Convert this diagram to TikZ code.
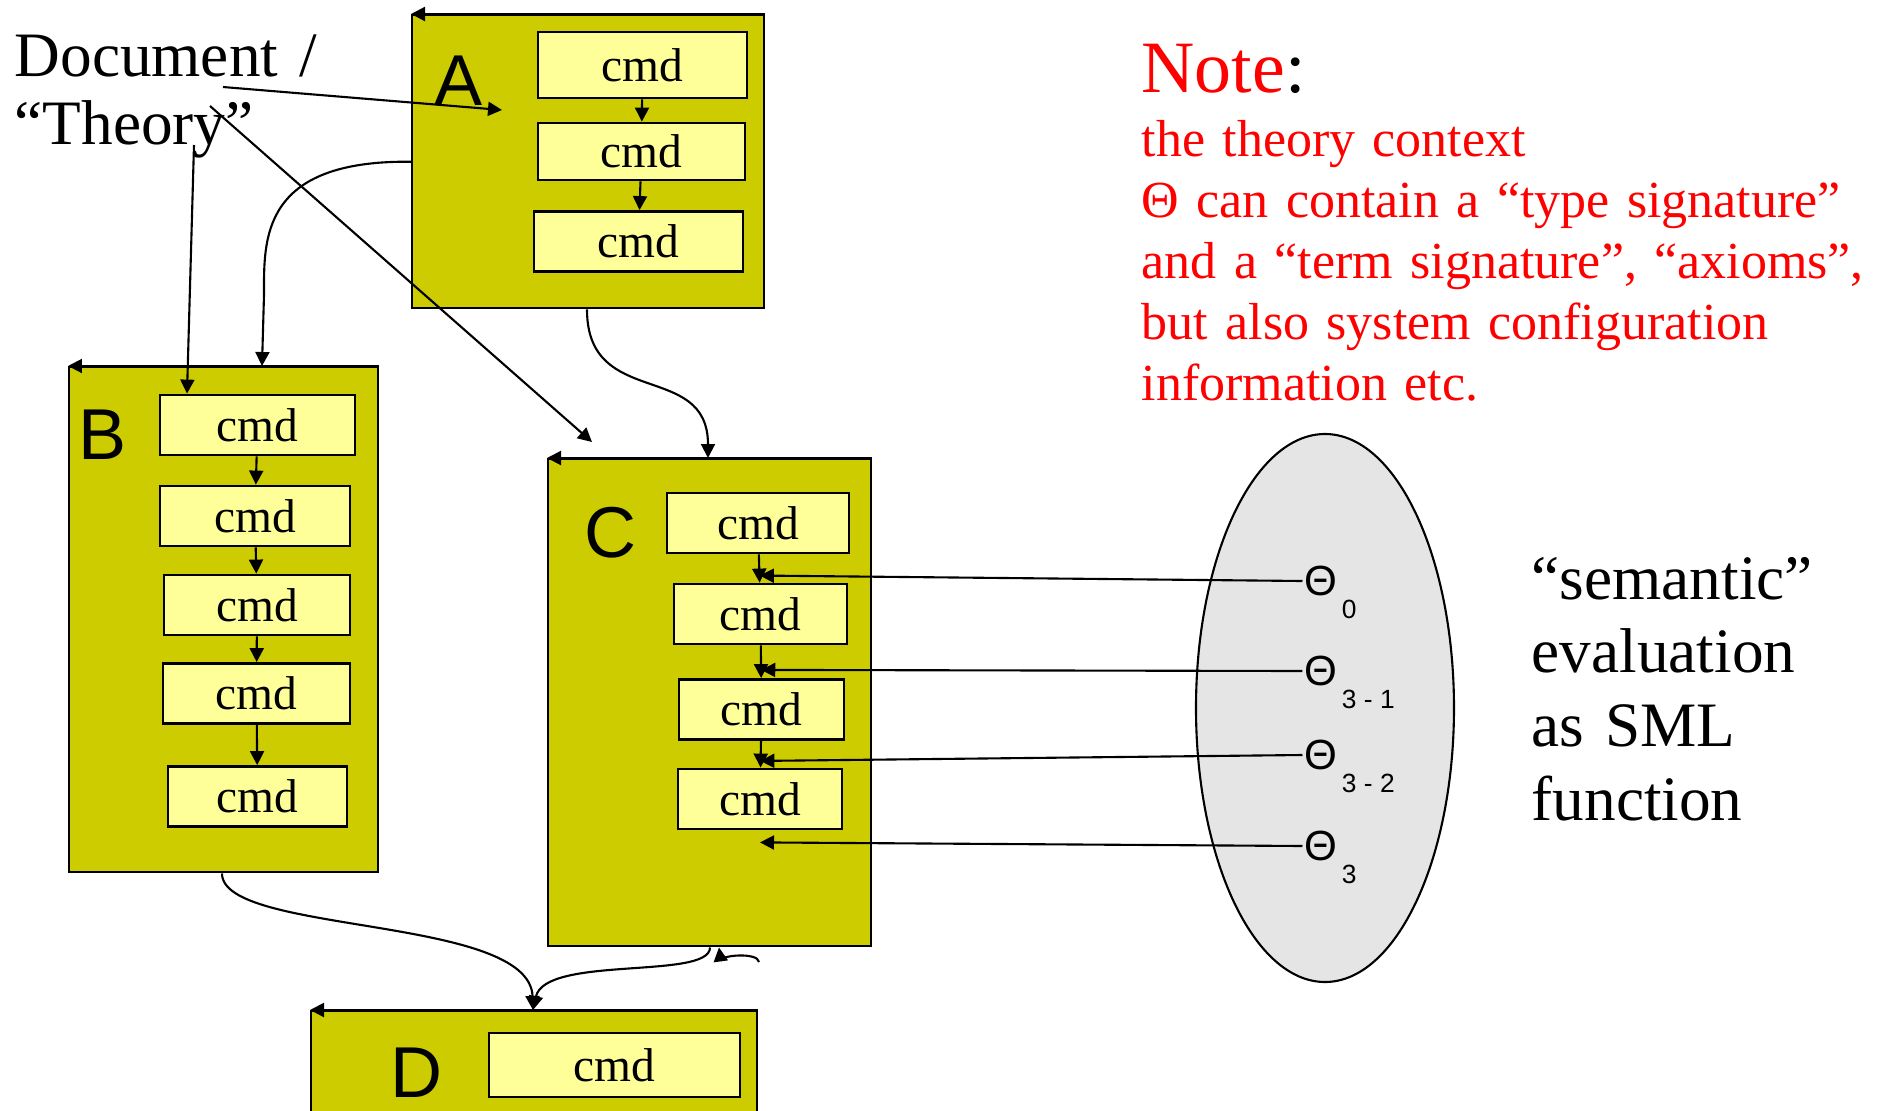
\documentclass[tikz,border=0pt]{standalone}
\usepackage{fontspec}
\setmainfont{Liberation Serif}
\newfontfamily\arialfont{Liberation Sans}
\usetikzlibrary{calc, arrows.meta, shapes.geometric}

\definecolor{boxolive}{RGB}{204,204,0}
\definecolor{cmdyellow}{RGB}{255,255,153}
\definecolor{ctxgray}{RGB}{229,229,229}

\begin{document}
\begin{tikzpicture}[
    frame/.style={draw, fill=boxolive, line width=0.7pt, anchor=north west, inner sep=0},
    cmdbox/.style={draw, fill=cmdyellow, line width=0.8pt, minimum height=0.6cm, inner sep=0,
        font=\fontsize{13.5}{14}\selectfont},
    letter/.style={inner sep=0, font=\arialfont\fontsize{20.5}{22}\selectfont},
    theta/.style={inner sep=0.4pt, font=\arialfont\fontsize{12}{13}\selectfont},
    subs/.style={inner sep=0.5pt, label distance=0pt, font=\arialfont\fontsize{7.5}{8}\selectfont},
    arr/.style={-{Triangle[length=1.4mm,width=1.4mm]}, line width=0.6pt}]

    % page size, D sticks out at the bottom
    \useasboundingbox (0,0) rectangle (18.78,-11.11);
    \clip (0,0) rectangle (18.78,-11.11);

    % the four theory boxes
    \node[frame, minimum width=3.52cm, minimum height=2.93cm] (A) at (4.11,-0.14) {};
    \node[frame, minimum width=3.09cm, minimum height=5.05cm] (B) at (0.68,-3.66) {};
    \node[frame, minimum width=3.23cm, minimum height=4.87cm] (C) at (5.47,-4.58) {};
    \node[frame, minimum width=4.46cm, minimum height=1.50cm] (D) at (3.10,-10.10) {};
    \foreach \b in {A,B,C,D}
        \draw[arr] (\b.north east) -- (\b.north west);

    \node[letter] (la) at (4.59,-0.81) {A};
    \node[letter] (lb) at (1.03,-4.35) {B};
    \node[letter] (lc) at (6.11,-5.33) {C};
    \node[letter] (ld) at (4.17,-10.73) {D};

    % commands of A
    \node[cmdbox, minimum width=2.09cm, minimum height=0.66cm] (a1) at (6.425,-0.65) {cmd};
    \node[cmdbox, minimum width=2.07cm, minimum height=0.57cm] (a2) at (6.415,-1.515) {cmd};
    \node[cmdbox, minimum width=2.09cm] (a3) at (6.385,-2.415) {cmd};
    % commands of B
    \node[cmdbox, minimum width=1.95cm] (b1) at (2.575,-4.25) {cmd};
    \node[cmdbox, minimum width=1.90cm] (b2) at (2.55,-5.16) {cmd};
    \node[cmdbox, minimum width=1.86cm] (b3) at (2.57,-6.05) {cmd};
    \node[cmdbox, minimum width=1.87cm] (b4) at (2.565,-6.935) {cmd};
    \node[cmdbox, minimum width=1.79cm] (b5) at (2.575,-7.965) {cmd};
    % commands of C
    \node[cmdbox, minimum width=1.82cm] (c1) at (7.58,-5.23) {cmd};
    \node[cmdbox, minimum width=1.73cm] (c2) at (7.605,-6.14) {cmd};
    \node[cmdbox, minimum width=1.65cm] (c3) at (7.615,-7.095) {cmd};
    \node[cmdbox, minimum width=1.64cm] (c4) at (7.60,-7.99) {cmd};
    % command of D
    \node[cmdbox, minimum width=2.51cm, minimum height=0.64cm] (d1) at (6.145,-10.65) {cmd};

    \foreach \u/\v in {a1/a2, a2/a3, b1/b2, b2/b3, b3/b4, b4/b5, c1/c2, c2/c3, c3/c4}
        \draw[arr] (\u) -- (\v);

    % the document text and where its arrows start
    \node[anchor=base west, inner sep=0, text width=4cm, align=left,
        font=\fontsize{18}{19.6}\selectfont] (doc) at (0.14,-0.76) {Document /\\“Theory”};
    \coordinate (src1) at (2.23,-0.87);
    \coordinate (src2) at (1.94,-1.45);
    \coordinate (src3) at (2.10,-1.06);
    \coordinate (aIn) at (5.02,-1.10);
    \coordinate (cIn) at (5.92,-4.42);

    \draw[arr] (src1) -- (aIn);
    \draw[arr] (src2) -- (1.87,0 |- b1.north);
    \draw[arr] (src3) -- (cIn);

    % imports between the theories
    \draw[arr] (A.west) .. controls (2.60,-1.60) and (2.64,-2.40) .. (2.64,-2.95) -- (2.62,0 |- B.north);
    \draw[arr] (5.87,0 |- A.south) .. controls (5.87,-4.10) and (7.08,-3.60) .. (7.08,0 |- C.north);
    \draw[arr] (2.22,0 |- B.south) .. controls (2.22,-9.35) and (5.30,-9.15) .. (5.33,0 |- D.north);
    \draw[arr] (7.10,0 |- C.south) .. controls (7.10,-9.80) and (5.45,-9.55) .. (5.33,0 |- D.north);
    \coordinate (hook) at (7.59,-9.62);
    \draw[arr] (hook) .. controls (7.58,-9.52) and (7.20,-9.55) .. (7.19,0 |- C.south);

    % semantic contexts
    \node[draw, ellipse, fill=ctxgray, line width=0.6pt, inner sep=0,
        minimum width=2.58cm, minimum height=5.48cm] (ctx) at (13.25,-7.08) {};
    \coordinate (p0) at ($(c1.south)!0.75!(c2.north)$);
    \coordinate (p1) at ($(c2.south)!0.75!(c3.north)$);
    \coordinate (p2) at ($(c3.south)!0.75!(c4.north)$);
    \coordinate (p3) at ($(c4.south)+(0,-0.12)$);
    \foreach \n/\y/\s in {0/5.81/0, 1/6.71/3 - 1, 2/7.55/3 - 2, 3/8.46/3} {
        \node[theta, label={[subs]south east:\s}] (t\n) at (13.21,-\y) {Θ};
        \draw[arr] (t\n.west) -- (p\n);
    }

    \node[anchor=base west, inner sep=0, text width=4cm, align=left,
        font=\fontsize{18}{21}\selectfont] (sem) at (15.31,-5.99)
        {“semantic”\\evaluation\\as SML\\function};

    % the note
    \node[anchor=base west, inner sep=0, font=\fontsize{21}{22}\selectfont] (note) at (11.41,-0.92)
        {\textcolor{red}{Note}:};
    \node[anchor=base west, inner sep=0, text width=8cm, align=left, text=red,
        font=\fontsize{14.8}{17.4}\selectfont] (notebody) at (11.41,-1.56)
        {the theory context\\Θ can contain a “type signature”\\and a “term signature”, “axioms”,\\but also system configuration\\information etc.};
\end{tikzpicture}
\end{document}
